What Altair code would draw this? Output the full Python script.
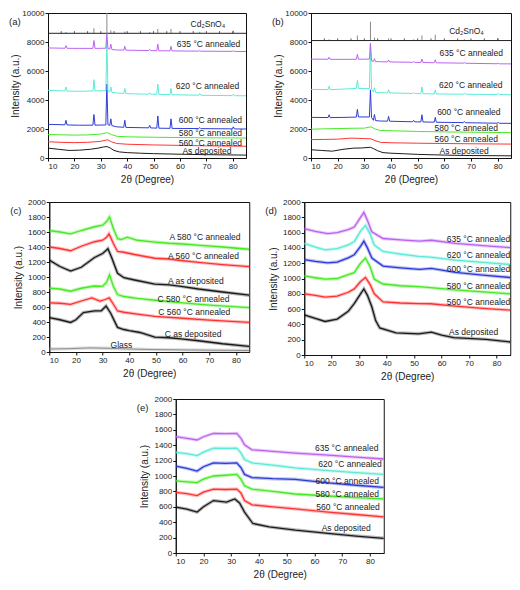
import altair as alt
import pandas as pd

FONT = "Liberation Sans"
BLACK, RED, GREEN, BLUE, CYAN, PURPLE, GREY = "#111111", "#ff2a2a", "#3fe81a", "#2434d6", "#52ead4", "#b85cf0", "#8a8a8a"

X_TICKS = [10, 20, 30, 40, 50, 60, 70, 80]
DIV_TICKS = [15, 20, 25, 30, 35, 40, 45, 50, 55, 60, 65, 70, 75, 80]
Y_TICKS_AB = [0, 2000, 4000, 6000, 8000, 10000]
Y_TICKS_CDE = [0, 200, 400, 600, 800, 1000, 1200, 1400, 1600, 1800, 2000]
LETTERS = ["(a)", "(b)", "(c)", "(d)", "(e)"]

# ---------- panel (a) / (b): crystalline grid ----------
XC = [10, 16.4, 16.8, 17.2, 22, 27.0, 27.4, 27.8, 31.9, 32.3, 32.7, 33.4, 33.8, 34.2, 36,
      38.7, 39.1, 39.5, 48.1, 48.5, 48.9, 51.2, 51.6, 52.0, 56.2, 56.6, 57.0,
      67.1, 67.5, 67.9, 79.8, 80.2, 80.6, 85]
XAM = [10, 14, 18, 22, 26, 29, 31, 32.3, 33.5, 35, 37, 40, 45, 50, 60, 70, 85]
XAM2 = [10, 15, 20, 25, 30, 32.5, 34, 36, 40, 50, 60, 70, 85]

A_600 = [2320, 2290, 2600, 2280, 2260, 2265, 3000, 2265, 2280, 5100, 2300, 2250, 2700, 2230, 2150,
         2120, 2600, 2110, 2080, 2250, 2075, 2060, 2900, 2055, 2045, 2700, 2040,
         2030, 2100, 2025, 2010, 2150, 2005, 2000]
A_620 = [4670, 4620, 4900, 4610, 4600, 4620, 5400, 4620, 4650, 8100, 4650, 4550, 4900, 4530, 4480,
         4450, 4800, 4440, 4400, 4500, 4400, 4390, 5100, 4385, 4370, 4800, 4365,
         4330, 4450, 4325, 4300, 4400, 4295, 4290]
A_635 = [7590, 7570, 7750, 7565, 7560, 7560, 8100, 7560, 7570, 8600, 7570, 7500, 7850, 7480, 7450,
         7440, 7700, 7435, 7410, 7500, 7405, 7400, 7850, 7395, 7390, 7700, 7385,
         7370, 7420, 7365, 7355, 7400, 7350, 7345]
A_DEP = [680, 600, 520, 540, 600, 680, 760, 790, 700, 520, 420, 370, 330, 300, 260, 230, 200]
A_560 = [1120, 1080, 1060, 1080, 1150, 1260, 1120, 1000, 950, 900, 870, 840, 810]
A_580 = [1620, 1600, 1580, 1590, 1650, 1750, 1620, 1500, 1460, 1430, 1410, 1395, 1380]

B_600 = [2800, 2790, 2980, 2785, 2800, 2820, 3350, 2830, 2830, 4700, 2800, 2600, 3000, 2580, 2550,
         2540, 2870, 2535, 2500, 2600, 2495, 2490, 2980, 2485, 2470, 2800, 2465,
         2440, 2520, 2435, 2400, 2460, 2395, 2390]
B_620 = [4730, 4720, 4950, 4715, 4750, 4800, 5350, 4800, 4780, 7900, 4750, 4550, 4850, 4530, 4500,
         4490, 4700, 4485, 4450, 4520, 4445, 4440, 4900, 4435, 4420, 4680, 4415,
         4400, 4470, 4395, 4380, 4450, 4375, 4360]
B_635 = [6820, 6810, 6950, 6805, 6800, 6810, 7150, 6810, 6820, 7900, 6700, 6660, 6850, 6650, 6640,
         6630, 6760, 6625, 6600, 6650, 6595, 6590, 6830, 6585, 6570, 6780, 6565,
         6540, 6580, 6535, 6500, 6540, 6495, 6490]
B_DEP = [570, 520, 470, 600, 680, 690, 720, 740, 640, 500, 370, 330, 290, 250, 200, 170, 150]
B_560 = [1270, 1280, 1300, 1370, 1340, 1320, 1200, 1080, 1050, 1020, 1000, 980, 960]
B_580 = [1990, 2010, 2030, 2050, 2060, 2150, 2000, 1900, 1880, 1830, 1800, 1780, 1750]

STICK_X = [16.8, 27.4, 32.3, 33.8, 39.1, 48.5, 51.6, 56.6, 67.5, 80.2]
STICK_A = [8680, 8950, 10000, 8800, 8720, 8680, 8900, 8900, 8700, 8780]
STICK_B = [8180, 8450, 9400, 8300, 8250, 8180, 8450, 8500, 8200, 8260]
BASE_A, BASE_B = 8600, 8100

LAB_A = [("Cd₂SnO₄", 64.0, 9230), ("635 °C annealed", 58.8, 7830), ("620 °C annealed", 58.4, 5000),
         ("600 °C annealed", 59.5, 2650), ("580 °C annealed", 59.5, 1710),
         ("560 °C annealed", 59.5, 1050), ("As deposited", 60.9, 460)]
LAB_B = [("Cd₂SnO₄", 61.8, 8730), ("635 °C annealed", 58.2, 7240), ("620 °C annealed", 58.0, 5060),
         ("600 °C annealed", 57.3, 3200), ("580 °C annealed", 56.3, 2060),
         ("560 °C annealed", 56.3, 1335), ("As deposited", 58.2, 500)]

# ---------- panel (c) ----------
C_A580_X = [10, 14, 18, 22, 27, 30, 31.5, 32.6, 34, 35.6, 37, 39.3, 43, 49.6, 55, 60, 66.7, 75, 85]
C_A580_Y = [1620, 1600, 1575, 1620, 1670, 1690, 1740, 1800, 1650, 1510, 1500, 1530, 1490, 1466, 1450, 1440, 1422, 1400, 1370]
C_A560_X = [10, 14, 18, 22, 27, 30, 31.5, 32.4, 34, 35.6, 38, 42, 49.6, 55, 59.4, 66, 75, 85]
C_A560_Y = [1400, 1380, 1350, 1410, 1470, 1490, 1530, 1576, 1450, 1340, 1330, 1300, 1250, 1240, 1220, 1195, 1165, 1138]
C_ADEP_X = [10, 14, 18, 22, 27, 30, 31.5, 32, 33.5, 35.6, 38, 42, 49.6, 55, 59.4, 66, 75, 85]
C_ADEP_Y = [1225, 1140, 1080, 1130, 1260, 1313, 1360, 1378, 1250, 1050, 990, 960, 906, 895, 875, 840, 800, 757]
C_C580_X = [10, 14, 18, 22, 27, 30, 31.5, 32.6, 34, 35.6, 38, 43, 49.6, 60, 70, 85]
C_C580_Y = [853, 840, 810, 850, 880, 875, 930, 1028, 880, 766, 740, 715, 690, 655, 625, 591]
C_C560_X = [10, 14, 18, 22, 26, 29, 31, 32.5, 34, 35.6, 38, 43, 49.6, 60, 70, 85]
C_C560_Y = [656, 650, 635, 680, 722, 678, 700, 722, 640, 547, 530, 505, 475, 450, 425, 394]
C_CDEP_X = [10, 14, 18, 20, 22.8, 27, 29.5, 31.3, 33, 35.6, 38, 40, 44, 49.6, 55, 59.4, 66, 75, 85]
C_CDEP_Y = [459, 430, 394, 430, 525, 547, 550, 613, 520, 328, 300, 284, 260, 197, 190, 175, 150, 110, 74]
C_GLASS_X = [10, 18, 25, 32, 40, 50, 60, 70, 85]
C_GLASS_Y = [40, 45, 55, 50, 40, 32, 28, 24, 20]
LAB_C = [("A 580 °C annealed", 55.1, 1532), ("A 560 °C annealed", 54.5, 1285), ("A as deposited", 54.5, 950),
         ("C 580 °C annealed", 50.6, 713), ("C 560 °C annealed", 50.9, 530), ("C as deposited", 53.3, 241),
         ("Glass", 33.0, 88)]

# ---------- panel (d) ----------
D_X1 = [10, 14, 17.6, 22, 26, 28.2, 30.5, 32.3, 34, 35.5, 38.7, 45, 51.6, 56, 65, 75, 85]
D_X2 = [10, 14, 18.5, 22, 26, 28.2, 30.5, 31.7, 33, 34.6, 38.7, 45, 52, 56.3, 65, 75, 85]
D_DEP_X = [10, 14, 17.6, 22, 26, 28.2, 30.5, 31.7, 33, 34.6, 36, 37.5, 43.4, 51.6, 56.3, 60, 64.5, 76.2, 85]
D_DEP = [523, 480, 438, 470, 570, 672, 800, 864, 780, 630, 450, 353, 289, 277, 298, 260, 226, 204, 170]
D_560 = [800, 780, 757, 770, 820, 864, 960, 1013, 920, 800, 694, 680, 672, 670, 640, 610, 587]
D_580 = [1034, 1010, 991, 1000, 1050, 1077, 1200, 1268, 1150, 991, 928, 905, 894, 880, 850, 825, 800]
D_600 = [1247, 1225, 1204, 1215, 1270, 1311, 1420, 1489, 1400, 1268, 1162, 1140, 1119, 1132, 1080, 1045, 1013]
D_620 = [1460, 1410, 1374, 1390, 1440, 1481, 1620, 1694, 1580, 1438, 1353, 1320, 1289, 1280, 1240, 1210, 1183]
D_635 = [1651, 1615, 1587, 1600, 1640, 1672, 1800, 1864, 1760, 1609, 1523, 1505, 1489, 1500, 1460, 1430, 1404]
LAB_D = [("635 °C annealed", 61.9, 1515), ("620 °C annealed", 61.9, 1302), ("600 °C annealed", 61.9, 1119),
         ("580 °C annealed", 61.9, 906), ("560 °C annealed", 61.9, 694), ("As deposited", 62.7, 302)]

# ---------- panel (e) ----------
E_DEP_X = [10, 14, 17.7, 20, 23.6, 28.3, 31.3, 33, 34.8, 37.8, 43.7, 53.1, 64.9, 75, 85]
E_DEP = [596, 570, 532, 600, 681, 660, 702, 650, 532, 383, 340, 298, 255, 220, 191]
E_X = [10, 14, 17.7, 20, 23.6, 28, 32, 33.5, 34.8, 37.5, 45, 53, 65, 75, 85]
E_560 = [787, 770, 745, 790, 830, 825, 830, 780, 681, 626, 600, 574, 530, 500, 468]
E_580 = [936, 925, 915, 960, 1000, 1010, 1021, 960, 872, 830, 800, 766, 740, 720, 702]
E_600 = [1128, 1100, 1064, 1120, 1170, 1165, 1170, 1110, 1021, 979, 965, 957, 910, 880, 851]
E_620 = [1306, 1290, 1264, 1310, 1362, 1360, 1362, 1300, 1213, 1170, 1140, 1106, 1070, 1045, 1021]
E_635 = [1511, 1490, 1468, 1510, 1553, 1550, 1553, 1490, 1404, 1340, 1320, 1298, 1270, 1245, 1221]
LAB_E = [("635 °C annealed", 60.2, 1362), ("620 °C annealed", 61.4, 1157), ("600 °C annealed", 60.4, 936),
         ("580 °C annealed", 60.4, 766), ("560 °C annealed", 60.7, 596), ("As deposited", 62.6, 319)]


def make_panel(letter, series, labels, ydom, yvals, w, h, halo, ytp, sticks=None):
    rows = []
    for name, xs, ys, col, sw in series:
        for x, y in zip(xs, ys):
            rows.append({"s": name, "x": x, "y": y, "c": col, "w": sw})
    df = pd.DataFrame(rows)
    xenc = alt.X("x:Q", scale=alt.Scale(domain=[10, 85], nice=False, zero=False),
                 axis=alt.Axis(values=X_TICKS, title="2θ (Degree)", titlePadding=4))
    yenc = alt.Y("y:Q", scale=alt.Scale(domain=ydom, nice=False, zero=False),
                 axis=alt.Axis(values=yvals, title="Intensity (a.u.)", titlePadding=ytp, format="d"))
    layers = []
    if sticks is not None:
        sx, sy, base = sticks
        sdf = pd.DataFrame({"x": sx, "y": [base] * len(sx), "y2": sy})
        layers.append(alt.Chart(sdf).mark_rule(color=GREY, strokeWidth=1).encode(x=xenc, y=yenc, y2="y2:Q"))
        tdf = pd.DataFrame({"x": DIV_TICKS, "y": [base] * len(DIV_TICKS),
                            "y2": [base + (ydom[1] - ydom[0]) * 0.015] * len(DIV_TICKS)})
        layers.append(alt.Chart(tdf).mark_rule(color="#333", strokeWidth=0.8).encode(x=xenc, y=yenc, y2="y2:Q"))
        layers.append(alt.Chart(pd.DataFrame({"y": [base]})).mark_rule(color="#222", strokeWidth=1).encode(y=yenc))
    if halo:
        layers.append(alt.Chart(df).mark_line(clip=True, strokeWidth=3.4, opacity=0.3).encode(
            x=xenc, y=yenc, color=alt.Color("c:N", scale=None), detail="s:N"))
    layers.append(alt.Chart(df).mark_line(clip=True, opacity=0.95).encode(
        x=xenc, y=yenc, color=alt.Color("c:N", scale=None), detail="s:N",
        strokeWidth=alt.StrokeWidth("w:Q", scale=None)))
    ldf = pd.DataFrame({"t": [l[0] for l in labels], "x": [l[1] for l in labels], "y": [l[2] for l in labels]})
    layers.append(alt.Chart(ldf).mark_text(align="left", baseline="middle", fontSize=8.5, font=FONT,
                                           color="#222").encode(x=xenc, y=yenc, text="t:N"))
    layers.append(alt.Chart(pd.DataFrame({"t": [letter]})).mark_text(
        align="left", baseline="top", fontSize=9.5, font=FONT, color="#222").encode(
        x=alt.value(-39), y=alt.value(4), text="t:N"))
    return alt.layer(*layers).properties(width=w, height=h)


pa = make_panel(LETTERS[0], [
    ("dep", XAM, A_DEP, BLACK, 1), ("560", XAM2, A_560, RED, 1), ("580", XAM2, A_580, GREEN, 1),
    ("600", XC, A_600, BLUE, 1), ("620", XC, A_620, CYAN, 1), ("635", XC, A_635, PURPLE, 1)],
    LAB_A, [0, 10000], Y_TICKS_AB, 198, 145, False, 1, (STICK_X, STICK_A, BASE_A))
pb = make_panel(LETTERS[1], [
    ("dep", XAM, B_DEP, BLACK, 1), ("560", XAM2, B_560, RED, 1), ("580", XAM2, B_580, GREEN, 1),
    ("600", XC, B_600, BLUE, 1), ("620", XC, B_620, CYAN, 1), ("635", XC, B_635, PURPLE, 1)],
    LAB_B, [0, 10000], Y_TICKS_AB, 200, 145, False, 1, (STICK_X, STICK_B, BASE_B))
pc = make_panel(LETTERS[2], [
    ("glass", C_GLASS_X, C_GLASS_Y, GREY, 1),
    ("cdep", C_CDEP_X, C_CDEP_Y, BLACK, 1.3), ("c560", C_C560_X, C_C560_Y, RED, 1.3),
    ("c580", C_C580_X, C_C580_Y, GREEN, 1.3), ("adep", C_ADEP_X, C_ADEP_Y, BLACK, 1.3),
    ("a560", C_A560_X, C_A560_Y, RED, 1.3), ("a580", C_A580_X, C_A580_Y, GREEN, 1.3)],
    LAB_C, [0, 2000], Y_TICKS_CDE, 200, 150, True, 4)
pd_ = make_panel(LETTERS[3], [
    ("dep", D_DEP_X, D_DEP, BLACK, 1.3), ("560", D_X1, D_560, RED, 1.3), ("580", D_X1, D_580, GREEN, 1.3),
    ("600", D_X2, D_600, BLUE, 1.3), ("620", D_X1, D_620, CYAN, 1.3), ("635", D_X2, D_635, PURPLE, 1.3)],
    LAB_D, [0, 2000], Y_TICKS_CDE, 206, 153, True, 4)
pe = make_panel(LETTERS[4], [
    ("dep", E_DEP_X, E_DEP, BLACK, 1.3), ("560", E_X, E_560, RED, 1.3), ("580", E_X, E_580, GREEN, 1.3),
    ("600", E_X, E_600, BLUE, 1.3), ("620", E_X, E_620, CYAN, 1.3), ("635", E_X, E_635, PURPLE, 1.3)],
    LAB_E, [0, 2000], Y_TICKS_CDE, 208, 154, True, 4)

row1 = alt.hconcat(pa, pb, spacing=24)
row2 = alt.hconcat(pc, pd_, spacing=14)
chart = alt.vconcat(row1, row2, pe, spacing=12, center=True).properties(padding=0).configure_view(
    stroke="#111", strokeWidth=1).configure_axis(
    labelFont=FONT, titleFont=FONT, labelFontSize=8, titleFontSize=10, titleFontWeight="normal",
    tickSize=3, domainColor="#111", tickColor="#111", labelColor="#222", titleColor="#222",
    grid=False, labelPadding=1)

chart.save("out.html", embed_options={"renderer": "svg", "actions": False})
